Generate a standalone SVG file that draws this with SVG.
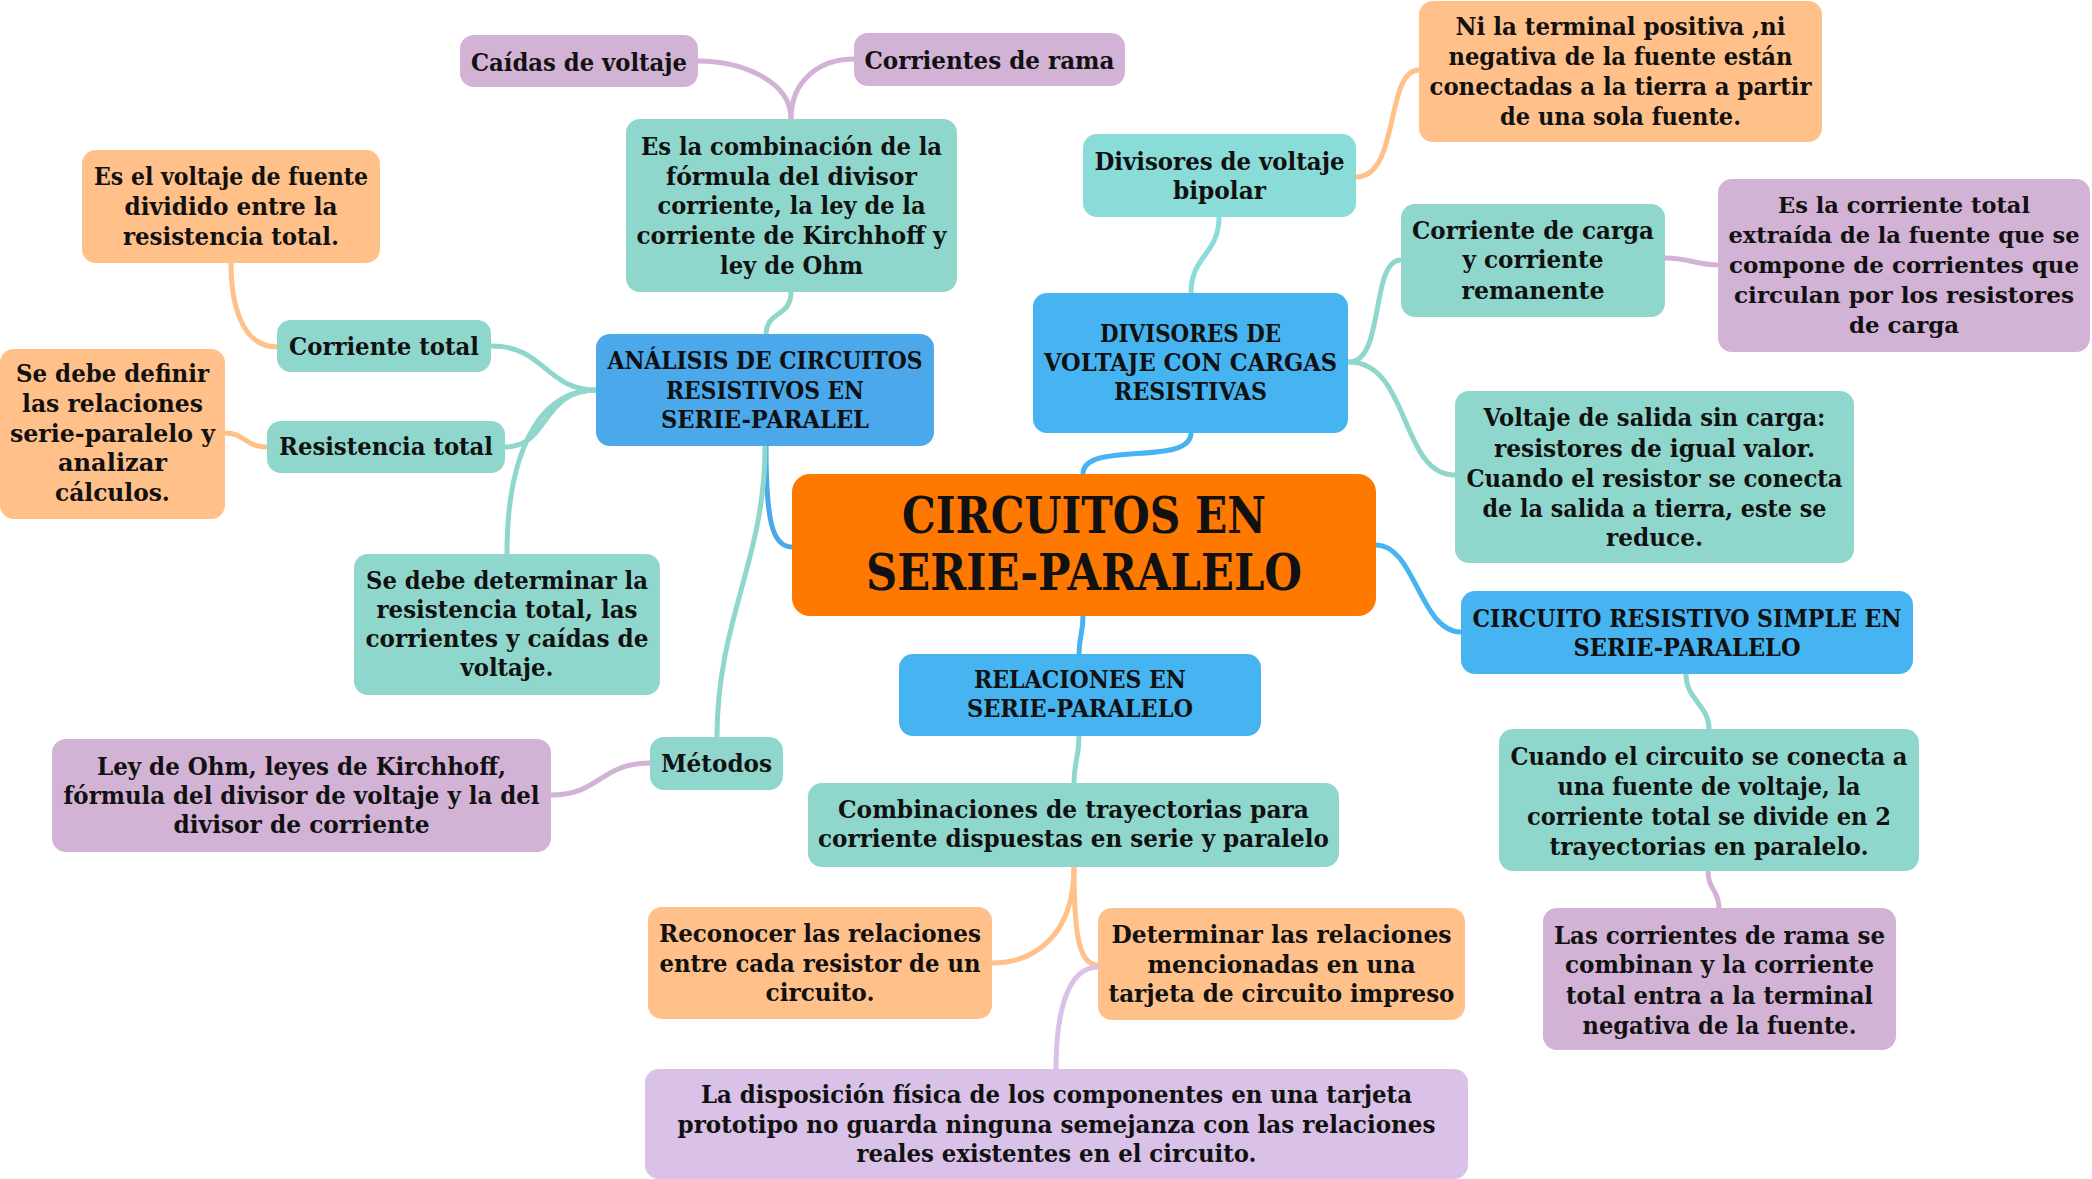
<svg xmlns="http://www.w3.org/2000/svg" width="2092" height="1179" viewBox="0 0 2092 1179">
<style>
text{font-family:"DejaVu Serif","Liberation Serif",serif;font-weight:bold;font-size:24px;fill:#111;text-anchor:middle}
.big{font-size:50px}
.sm{font-size:22px}
.teal{fill:#8fd7cc}.teal2{fill:#8adcd8}.blueA{fill:#4aa8eb}.blue{fill:#47b4f2}.orange{fill:#ff7800}.lor{fill:#ffc089}.pur{fill:#d2b2d5}.lpur{fill:#d9c1e7}
#connectors path{fill:none;stroke-width:5;stroke-linecap:round}
.s-teal{stroke:#8fd7cc}.s-teal2{stroke:#8adcd8}.s-blueA{stroke:#4aa8eb}.s-blue{stroke:#47b4f2}.s-lor{stroke:#ffc089}.s-pur{stroke:#d2b2d5}.s-lpur{stroke:#d9c1e7}
</style>
<rect width="2092" height="1179" fill="#fff"/>
<g id="connectors">
<path class="s-blueA" d="M792,547 C772,547 766,520 766,446"/>
<path class="s-blue" d="M1083,474 C1083,440 1191,467 1191,433"/>
<path class="s-blue" d="M1376,545 C1415,545 1420,632 1461,632"/>
<path class="s-blue" d="M1083,616 C1083,636 1079,634 1079,655"/>
<path class="s-teal" d="M766,335 C766,310 791,318 791,292"/>
<path class="s-pur" d="M791,119 C791,80 740,61 698,61"/>
<path class="s-pur" d="M791,119 C791,80 820,59 854,59"/>
<path class="s-teal" d="M597,390 C545,390 545,346 492,346"/>
<path class="s-teal" d="M597,390 C540,390 550,447 505,447"/>
<path class="s-teal" d="M597,390 C530,390 507,470 507,553"/>
<path class="s-teal" d="M765,447 C765,560 717,620 717,737"/>
<path class="s-lor" d="M277,347 C240,347 231,300 231,263"/>
<path class="s-lor" d="M267,447 C245,447 245,433 225,433"/>
<path class="s-pur" d="M650,763 C600,763 600,795 551,795"/>
<path class="s-teal2" d="M1191,293 C1191,255 1219,255 1219,217"/>
<path class="s-lor" d="M1356,177 C1400,177 1385,70 1419,70"/>
<path class="s-teal" d="M1349,362 C1385,362 1370,260 1401,260"/>
<path class="s-teal" d="M1349,362 C1410,362 1400,475 1455,475"/>
<path class="s-pur" d="M1665,258 C1690,258 1695,265 1719,265"/>
<path class="s-teal" d="M1686,674 C1686,700 1709,705 1709,729"/>
<path class="s-pur" d="M1708,871 C1708,890 1719,890 1719,908"/>
<path class="s-teal" d="M1079,736 C1079,760 1074,760 1074,783"/>
<path class="s-lor" d="M1074,867 C1074,940 1030,963 992,963"/>
<path class="s-lor" d="M1074,867 C1074,940 1080,965 1098,965"/>
<path class="s-lpur" d="M1098,967 C1065,967 1056,1020 1056,1069"/>
</g>
<g id="central"><rect class="orange" x="792" y="474" width="584" height="142" rx="18"/>
<text class="big" x="1084" y="533" textLength="364" lengthAdjust="spacingAndGlyphs">CIRCUITOS EN</text>
<text class="big" x="1084" y="590" textLength="436" lengthAdjust="spacingAndGlyphs">SERIE-PARALELO</text></g>
<g id="analisis"><rect class="blueA" x="596" y="334" width="338" height="112" rx="14"/>
<text x="765" y="369" textLength="315" lengthAdjust="spacingAndGlyphs">ANÁLISIS DE CIRCUITOS</text>
<text x="765" y="399" textLength="198" lengthAdjust="spacingAndGlyphs">RESISTIVOS EN</text>
<text x="765" y="428" textLength="208" lengthAdjust="spacingAndGlyphs">SERIE-PARALEL</text></g>
<g id="combinacion"><rect class="teal" x="626" y="119" width="331" height="173" rx="14"/>
<text x="791.5" y="155" textLength="301" lengthAdjust="spacingAndGlyphs">Es la combinación de la</text>
<text x="791.5" y="185" textLength="251" lengthAdjust="spacingAndGlyphs">fórmula del divisor</text>
<text x="791.5" y="214" textLength="268" lengthAdjust="spacingAndGlyphs">corriente, la ley de la</text>
<text x="791.5" y="244" textLength="310" lengthAdjust="spacingAndGlyphs">corriente de Kirchhoff y</text>
<text x="791.5" y="274" textLength="143" lengthAdjust="spacingAndGlyphs">ley de Ohm</text></g>
<g id="caidas"><rect class="pur" x="460" y="35" width="238" height="52" rx="14"/>
<text x="579" y="71" textLength="216" lengthAdjust="spacingAndGlyphs">Caídas de voltaje</text></g>
<g id="corrientes-rama"><rect class="pur" x="854" y="33" width="271" height="53" rx="14"/>
<text x="989.5" y="69" textLength="250" lengthAdjust="spacingAndGlyphs">Corrientes de rama</text></g>
<g id="es-el-voltaje"><rect class="lor" x="82" y="150" width="298" height="113" rx="14"/>
<text x="231" y="185" textLength="274" lengthAdjust="spacingAndGlyphs">Es el voltaje de fuente</text>
<text x="231" y="215" textLength="213" lengthAdjust="spacingAndGlyphs">dividido entre la</text>
<text x="231" y="245" textLength="216" lengthAdjust="spacingAndGlyphs">resistencia total.</text></g>
<g id="corriente-total"><rect class="teal" x="277" y="320" width="214" height="52" rx="14"/>
<text x="384" y="355" textLength="190" lengthAdjust="spacingAndGlyphs">Corriente total</text></g>
<g id="resistencia-total"><rect class="teal" x="267" y="421" width="238" height="52" rx="14"/>
<text x="386" y="455" textLength="214" lengthAdjust="spacingAndGlyphs">Resistencia total</text></g>
<g id="se-debe-definir"><rect class="lor" x="0" y="349" width="225" height="170" rx="14"/>
<text x="112.5" y="382" textLength="193" lengthAdjust="spacingAndGlyphs">Se debe definir</text>
<text x="112.5" y="412" textLength="181" lengthAdjust="spacingAndGlyphs">las relaciones</text>
<text x="112.5" y="442" textLength="205" lengthAdjust="spacingAndGlyphs">serie-paralelo y</text>
<text x="112.5" y="471" textLength="109" lengthAdjust="spacingAndGlyphs">analizar</text>
<text x="112.5" y="501" textLength="115" lengthAdjust="spacingAndGlyphs">cálculos.</text></g>
<g id="se-debe-determinar"><rect class="teal" x="354" y="554" width="306" height="141" rx="14"/>
<text x="507" y="589" textLength="282" lengthAdjust="spacingAndGlyphs">Se debe determinar la</text>
<text x="507" y="618" textLength="261" lengthAdjust="spacingAndGlyphs">resistencia total, las</text>
<text x="507" y="647" textLength="283" lengthAdjust="spacingAndGlyphs">corrientes y caídas de</text>
<text x="507" y="676" textLength="93" lengthAdjust="spacingAndGlyphs">voltaje.</text></g>
<g id="metodos"><rect class="teal" x="650" y="737" width="133" height="53" rx="14"/>
<text x="716.5" y="772" textLength="111" lengthAdjust="spacingAndGlyphs">Métodos</text></g>
<g id="ley-ohm"><rect class="pur" x="52" y="739" width="499" height="113" rx="14"/>
<text x="301.5" y="775" textLength="409" lengthAdjust="spacingAndGlyphs">Ley de Ohm, leyes de Kirchhoff,</text>
<text x="301.5" y="804" textLength="476" lengthAdjust="spacingAndGlyphs">fórmula del divisor de voltaje y la del</text>
<text x="301.5" y="833" textLength="256" lengthAdjust="spacingAndGlyphs">divisor de corriente</text></g>
<g id="divisores-bipolar"><rect class="teal2" x="1083" y="134" width="273" height="83" rx="14"/>
<text x="1219.5" y="170" textLength="250" lengthAdjust="spacingAndGlyphs">Divisores de voltaje</text>
<text x="1219.5" y="199" textLength="93" lengthAdjust="spacingAndGlyphs">bipolar</text></g>
<g id="divisores-cargas"><rect class="blue" x="1033" y="293" width="315" height="140" rx="14"/>
<text x="1190.5" y="342" textLength="181" lengthAdjust="spacingAndGlyphs">DIVISORES DE</text>
<text x="1190.5" y="371" textLength="293" lengthAdjust="spacingAndGlyphs">VOLTAJE CON CARGAS</text>
<text x="1190.5" y="400" textLength="153" lengthAdjust="spacingAndGlyphs">RESISTIVAS</text></g>
<g id="ni-la-terminal"><rect class="lor" x="1419" y="1" width="403" height="141" rx="14"/>
<text x="1620.5" y="35" textLength="330" lengthAdjust="spacingAndGlyphs">Ni la terminal positiva ,ni</text>
<text x="1620.5" y="65" textLength="344" lengthAdjust="spacingAndGlyphs">negativa de la fuente están</text>
<text x="1620.5" y="95" textLength="382" lengthAdjust="spacingAndGlyphs">conectadas a la tierra a partir</text>
<text x="1620.5" y="125" textLength="241" lengthAdjust="spacingAndGlyphs">de una sola fuente.</text></g>
<g id="corriente-carga"><rect class="teal" x="1401" y="204" width="264" height="113" rx="14"/>
<text x="1533" y="239" textLength="242" lengthAdjust="spacingAndGlyphs">Corriente de carga</text>
<text x="1533" y="268" textLength="141" lengthAdjust="spacingAndGlyphs">y corriente</text>
<text x="1533" y="299" textLength="143" lengthAdjust="spacingAndGlyphs">remanente</text></g>
<g id="es-la-corriente"><rect class="pur" x="1718" y="179" width="372" height="173" rx="14"/>
<text class="sm" x="1904" y="213" textLength="252" lengthAdjust="spacingAndGlyphs">Es la corriente total</text>
<text class="sm" x="1904" y="243" textLength="351" lengthAdjust="spacingAndGlyphs">extraída de la fuente que se</text>
<text class="sm" x="1904" y="273" textLength="350" lengthAdjust="spacingAndGlyphs">compone de corrientes que</text>
<text class="sm" x="1904" y="303" textLength="340" lengthAdjust="spacingAndGlyphs">circulan por los resistores</text>
<text class="sm" x="1904" y="333" textLength="110" lengthAdjust="spacingAndGlyphs">de carga</text></g>
<g id="voltaje-salida"><rect class="teal" x="1455" y="391" width="399" height="172" rx="14"/>
<text x="1654.5" y="426" textLength="342" lengthAdjust="spacingAndGlyphs">Voltaje de salida sin carga:</text>
<text x="1654.5" y="457" textLength="321" lengthAdjust="spacingAndGlyphs">resistores de igual valor.</text>
<text x="1654.5" y="487" textLength="376" lengthAdjust="spacingAndGlyphs">Cuando el resistor se conecta</text>
<text x="1654.5" y="517" textLength="344" lengthAdjust="spacingAndGlyphs">de la salida a tierra, este se</text>
<text x="1654.5" y="546" textLength="97" lengthAdjust="spacingAndGlyphs">reduce.</text></g>
<g id="circuito-simple"><rect class="blue" x="1461" y="591" width="452" height="83" rx="14"/>
<text x="1687" y="627" textLength="429" lengthAdjust="spacingAndGlyphs">CIRCUITO RESISTIVO SIMPLE EN</text>
<text x="1687" y="656" textLength="227" lengthAdjust="spacingAndGlyphs">SERIE-PARALELO</text></g>
<g id="cuando-circuito"><rect class="teal" x="1499" y="729" width="420" height="142" rx="14"/>
<text x="1709" y="765" textLength="397" lengthAdjust="spacingAndGlyphs">Cuando el circuito se conecta a</text>
<text x="1709" y="795" textLength="303" lengthAdjust="spacingAndGlyphs">una fuente de voltaje, la</text>
<text x="1709" y="825" textLength="364" lengthAdjust="spacingAndGlyphs">corriente total se divide en 2</text>
<text x="1709" y="855" textLength="319" lengthAdjust="spacingAndGlyphs">trayectorias en paralelo.</text></g>
<g id="las-corrientes"><rect class="pur" x="1543" y="908" width="353" height="142" rx="14"/>
<text x="1719.5" y="944" textLength="331" lengthAdjust="spacingAndGlyphs">Las corrientes de rama se</text>
<text x="1719.5" y="973" textLength="309" lengthAdjust="spacingAndGlyphs">combinan y la corriente</text>
<text x="1719.5" y="1004" textLength="307" lengthAdjust="spacingAndGlyphs">total entra a la terminal</text>
<text x="1719.5" y="1034" textLength="274" lengthAdjust="spacingAndGlyphs">negativa de la fuente.</text></g>
<g id="relaciones"><rect class="blue" x="899" y="654" width="362" height="82" rx="14"/>
<text x="1080" y="688" textLength="212" lengthAdjust="spacingAndGlyphs">RELACIONES EN</text>
<text x="1080" y="717" textLength="226" lengthAdjust="spacingAndGlyphs">SERIE-PARALELO</text></g>
<g id="combinaciones"><rect class="teal" x="808" y="783" width="531" height="84" rx="14"/>
<text x="1073.5" y="818" textLength="471" lengthAdjust="spacingAndGlyphs">Combinaciones de trayectorias para</text>
<text x="1073.5" y="847" textLength="511" lengthAdjust="spacingAndGlyphs">corriente dispuestas en serie y paralelo</text></g>
<g id="reconocer"><rect class="lor" x="648" y="907" width="344" height="112" rx="14"/>
<text x="820" y="942" textLength="322" lengthAdjust="spacingAndGlyphs">Reconocer las relaciones</text>
<text x="820" y="972" textLength="321" lengthAdjust="spacingAndGlyphs">entre cada resistor de un</text>
<text x="820" y="1001" textLength="109" lengthAdjust="spacingAndGlyphs">circuito.</text></g>
<g id="determinar"><rect class="lor" x="1098" y="908" width="367" height="112" rx="14"/>
<text x="1281.5" y="943" textLength="340" lengthAdjust="spacingAndGlyphs">Determinar las relaciones</text>
<text x="1281.5" y="973" textLength="268" lengthAdjust="spacingAndGlyphs">mencionadas en una</text>
<text x="1281.5" y="1002" textLength="346" lengthAdjust="spacingAndGlyphs">tarjeta de circuito impreso</text></g>
<g id="disposicion"><rect class="lpur" x="645" y="1069" width="823" height="110" rx="14"/>
<text x="1056.5" y="1103" textLength="711" lengthAdjust="spacingAndGlyphs">La disposición física de los componentes en una tarjeta</text>
<text x="1056.5" y="1133" textLength="758" lengthAdjust="spacingAndGlyphs">prototipo no guarda ninguna semejanza con las relaciones</text>
<text x="1056.5" y="1162" textLength="400" lengthAdjust="spacingAndGlyphs">reales existentes en el circuito.</text></g>
</svg>
